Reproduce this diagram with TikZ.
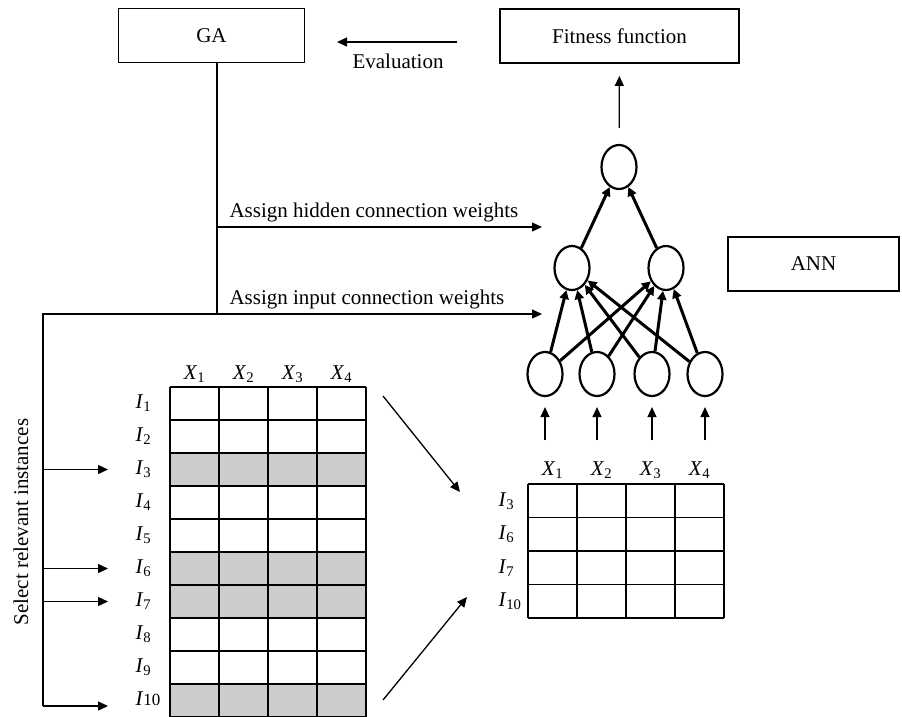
\documentclass[tikz,border=0pt]{standalone}
\usepackage{fontspec}
\setmainfont{Liberation Serif}
\usetikzlibrary{shapes.geometric,arrows.meta,positioning}
\newcommand{\var}[2]{\textit{#1}\textsubscript{#2}}

\begin{document}
\begin{tikzpicture}[
  x=1pt, y=-1pt,
  every node/.style={
    font=\fontsize{21}{25}\selectfont
  },
  box/.style={
    draw,
    line width=1.9pt,
    minimum height=54pt,
    inner sep=0pt
  },
  neuron/.style={
    draw,
    ellipse,
    line width=2.2pt,
    minimum width=35pt,
    minimum height=44pt,
    inner sep=0pt
  },
  thin_line/.style={
    line width=1.3pt
  },
  flow/.style={
    thin_line,
    -{Triangle[length=10pt,width=9pt]}
  },
  link/.style={
    line width=3pt,
    -{Triangle[length=9pt,width=9pt]}
  },
  picked_row/.style={
    fill=black!20
  }
]%
\useasboundingbox (0,0) rectangle (902,716);

% boxes
\node [box, minimum width=186pt] (ga) at (211.5,35.5) {GA};
\node [box, minimum width=239pt] (fitness) at (619.5,36) {Fitness function};
\node [box, minimum width=171pt] (ann) at (813.5,264) {ANN};

\coordinate (eval_from) at (457,42);
\coordinate (eval_to) at (337,42);
\draw [flow] (eval_from) -- (eval_to);
\node [anchor=base] (eval_label) at (398,68) {Evaluation};

% network
\node [neuron] (out) at (619,167) {};
\node [neuron] (hid1) at (572,268) {};
\node [neuron] (hid2) at (666,268) {};
\foreach \i/\x in {1/545,2/597,3/652,4/705}
  \node [neuron] (in\i) at (\x,374) {};

\draw [flow, shorten <=16pt, shorten >=12pt] (out) -- (fitness);
\foreach \i in {1,...,4} {
  \draw [link] (in\i) -- (hid1);
  \draw [link] (in\i) -- (hid2);
}
\draw [link] (hid1) -- (out);
\draw [link] (hid2) -- (out);

% GA feeds the network and the selection
\coordinate (split) at (217,314);
\coordinate (rail_top) at (43,314);
\coordinate (rail_end) at (43,706);
\coordinate (hid_tap) at (217,227);
\coordinate (hid_tip) at (542,227);
\coordinate (in_tip) at (542,314);
\draw [thin_line] (split |- ga.south) -- (split) -- (rail_top) -- (rail_end);
\draw [flow] (hid_tap) -- (hid_tip);
\draw [flow] (split) -- (in_tip);
\node [anchor=base west] (hid_label) at (226,217.5) {Assign hidden connection weights};
\node [anchor=base west] (in_label) at (226,304) {Assign input connection weights};
\node [rotate=90] (select) at (21,522) {Select relevant instances};

% full data table
\foreach \r in {3,6,7,10}
  \fill [picked_row] (170,{387+33*(\r-1)}) rectangle (366,{387+33*\r});
\foreach \r in {0,...,10}
  \draw [thin_line] (170,{387+33*\r}) -- (366,{387+33*\r});
\foreach \c in {0,...,4}
  \draw [thin_line] ({170+49*\c},387) -- ({170+49*\c},717);
\foreach \c in {1,...,4}
  \node (bigX\c) at ({170+49*(\c-0.5)},374) {\var{X}{\c}};
\foreach \r in {1,...,9}
  \node [anchor=west] (bigI\r) at (132,{387+33*(\r-0.5)}) {\var{I}{\r}};
\node [anchor=west] (bigI10) at (132,699) {\textit{I}{\fontsize{17}{20}\selectfont 10}};

\foreach \r in {3,6,7}
  \draw [flow] (rail_top |- bigI\r) -- ++(65,0);
\draw [flow] (rail_end) -- ++(65,0);

% reduced table
\foreach \r in {0,...,4}
  \draw [thin_line] (528,{484+33.5*\r}) -- (724,{484+33.5*\r});
\foreach \c in {0,...,4}
  \draw [thin_line] ({528+49*\c},484) -- ({528+49*\c},618);
\foreach \c in {1,...,4}
  \node (smallX\c) at ({528+49*(\c-0.5)},470) {\var{X}{\c}};
\foreach \r/\lab in {1/3,2/6,3/7,4/10}
  \node [anchor=west] (smallI\r) at (495,{484+33.5*(\r-0.5)}) {\var{I}{\lab}};

\foreach \i in {1,...,4}
  \draw [flow, shorten <=30pt, shorten >=10pt] (in\i |- smallX\i.center) -- (in\i);

% instances carried over
\coordinate (pick_top) at (383,396);
\coordinate (land_top) at (460,492);
\coordinate (pick_bot) at (383,700);
\coordinate (land_bot) at (467,597);
\draw [flow] (pick_top) -- (land_top);
\draw [flow] (pick_bot) -- (land_bot);
\end{tikzpicture}
\end{document}
